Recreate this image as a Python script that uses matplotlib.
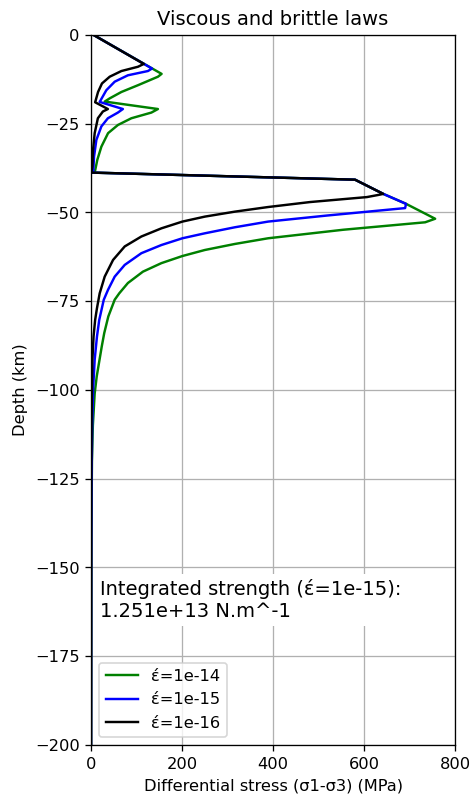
import numpy as np
import matplotlib
matplotlib.use("Agg")
import matplotlib.pyplot as plt

plt.rcParams['path.simplify'] = False

# strain rate labels
labels = ["έ=1e-14", "έ=1e-15", "έ=1e-16"]
colors = ["green", "blue", "black"]

# green, 1e-14  (stress MPa, depth km)
stress_14 = [5, 155, 147, 103, 66.7, 41, 30, 147, 132.6, 88.6,
             59, 37.4, 22.7, 13.8, 9, 0.5,
             580, 642, 692, 756, 734, 554, 389, 316, 250,
             200.7, 154.6, 114, 81, 62, 52, 38, 29, 23.5,
             12.5, 8, 4, 2, 0.8, 0]
depth_14 = [0, -11.0, -11.8, -14.2, -16.1, -17.9, -18.8, -20.9, -21.9, -23.5,
            -25.4, -27.7, -31.5, -35.2, -38.2, -38.8,
            -40.8, -44.8, -47.6, -51.8, -52.8, -54.9, -57.3, -58.9, -60.6,
            -62.3, -64.3, -66.7, -69.9, -72.8, -74.6, -79.3, -84, -87.8,
            -96.2, -101, -110, -120, -140, -200]

# blue, 1e-15
stress_15 = [5, 134, 125, 81, 52, 33.6, 19, 70, 59, 37,
             22.7, 11.7, 6.6, 5, 0.5,
             580, 642, 692, 690, 518, 389, 316, 250, 200.7,
             154.6, 110.6, 74, 52, 37.4, 28, 18, 13, 8,
             4.5, 2.5, 1.2, 0.4, 0]
depth_15 = [0, -9.5, -10.2, -11.4, -13.2, -15.6, -18.9, -20.9, -21.9, -23.5,
            -25.8, -29.6, -34.3, -38.2, -38.8,
            -40.8, -44.8, -47.6, -48.8, -50.9, -52.6, -54.2, -55.9, -57.3,
            -59.2, -61.5, -64.8, -68.1, -71.8, -74.6, -80.3, -85, -91.5,
            -100, -110, -125, -150, -200]

# black, 1e-16
stress_16 = [5, 116, 103, 66.7, 41, 24, 15.4, 9, 37, 26,
             15, 8, 4.4, 3, 0.5,
             580, 642, 631, 606, 481, 389, 316, 250, 200.7,
             154.6, 110.6, 74, 48.4, 30, 19, 13, 9, 5.5,
             3, 2, 1, 0.3, 0]
depth_16 = [0, -8.2, -9.0, -10.2, -11.8, -13.7, -16.1, -19.0, -20.9, -21.6,
            -23.5, -27.7, -32.4, -37, -38.8,
            -40.8, -44.8, -45.1, -45.7, -47.1, -48.5, -49.8, -51.2, -52.6,
            -54.5, -56.8, -59.6, -63.4, -68.1, -72.8, -77, -80.3, -85,
            -91.5, -100, -110, -130, -200]

strength_text = "Integrated strength (έ=1e-15):\n1.251e+13 N.m^-1"

DPI = 117
fig = plt.figure(figsize=(471.2 / DPI, 794.2 / DPI), dpi=DPI)
ax = fig.add_axes([91/471, 1 - 745/794, 364/471, 710/794])

for s, d, c, lab in zip([stress_14, stress_15, stress_16],
                        [depth_14, depth_15, depth_16], colors, labels):
    ax.plot(s, d, color=c, linewidth=1.5, label=lab)

ax.set_xlim(0, 800)
ax.set_ylim(-200, 0)
ax.set_xticks(np.arange(0, 801, 200))
ax.set_yticks(np.arange(-200, 1, 25))
ax.grid(True, color='#b0b0b0')
ax.set_axisbelow(True)

ax.set_title("Viscous and brittle laws")
ax.set_xlabel("Differential stress (σ1-σ3) (MPa)")
ax.set_ylabel("Depth (km)")

ax.text(20, -153.2, strength_text, fontsize=12, va='top', ha='left',
        bbox=dict(facecolor='white', edgecolor='none', pad=3))

ax.legend(loc='lower left')

fig.savefig("out.png", dpi=DPI, facecolor='white')
